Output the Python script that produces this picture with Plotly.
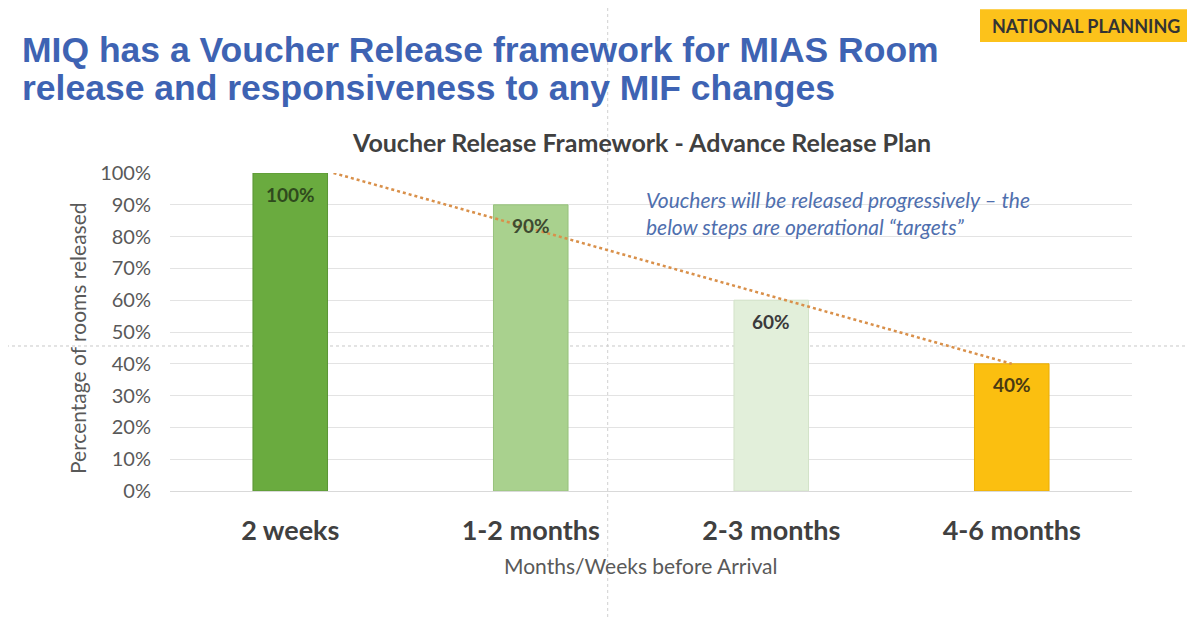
import plotly.graph_objects as go

categories = ["2 weeks", "1-2 months", "2-3 months", "4-6 months"]
released_pct = [100, 90, 60, 40]
bar_colors = ["#6aab3f", "#a9d18e", "#e2efda", "#fbbf10"]
bar_edge = ["#5a9534", "#98c27c", "#d3e3c9", "#e9ad05"]
label_colors = ["#2f4a1d", "#3d4a30", "#3a3a3a", "#4a3a12"]
trend_x = [0.18, 3.0]
trend_y = [100, 40]
y_ticks = [0, 10, 20, 30, 40, 50, 60, 70, 80, 90, 100]

x_pos = list(range(len(categories)))

fig = go.Figure()
fig.add_trace(go.Bar(
    x=x_pos, y=released_pct,
    marker=dict(color=bar_colors, line=dict(color=bar_edge, width=1)),
    width=0.31,
    hoverinfo="skip", showlegend=False,
))
fig.add_trace(go.Scatter(
    x=trend_x, y=trend_y, mode="lines",
    line=dict(color="#d9904a", width=2.5, dash="dot"),
    hoverinfo="skip", showlegend=False,
))

annotations = [
    dict(text="<b>MIQ has a Voucher Release framework for MIAS Room</b>",
         xref="paper", yref="paper", x=-0.156, y=1.387, xanchor="left", yanchor="middle",
         showarrow=False, font=dict(family="Liberation Sans, Arial, sans-serif", size=35.5, color="#3e63b3")),
    dict(text="<b>release and responsiveness to any MIF changes</b>",
         xref="paper", yref="paper", x=-0.156, y=1.267, xanchor="left", yanchor="middle",
         showarrow=False, font=dict(family="Liberation Sans, Arial, sans-serif", size=35.5, color="#3e63b3")),
    dict(text="<b>Voucher Release Framework - Advance Release Plan</b>",
         xref="paper", yref="paper", x=0.49, y=1.097, xanchor="center", yanchor="middle",
         showarrow=False, font=dict(size=25, color="#404040")),
    dict(text="<b>NATIONAL PLANNING</b>",
         xref="paper", yref="paper", x=0.852, y=1.462, xanchor="left", yanchor="middle",
         showarrow=False, font=dict(family="Liberation Sans Narrow, Lato, sans-serif", size=18, color="#333333")),
    dict(text="<i>Vouchers will be released progressively – the</i>",
         xref="paper", yref="paper", x=0.493, y=0.918, xanchor="left", yanchor="middle",
         showarrow=False, font=dict(size=21, color="#4f6fae")),
    dict(text="<i>below steps are operational “targets”</i>",
         xref="paper", yref="paper", x=0.493, y=0.833, xanchor="left", yanchor="middle",
         showarrow=False, font=dict(size=21, color="#4f6fae")),
    dict(text="Months/Weeks before Arrival",
         xref="paper", yref="paper", x=0.49, y=-0.235, xanchor="center", yanchor="middle",
         showarrow=False, font=dict(size=21, color="#595959")),
    dict(text="Percentage of rooms released", textangle=-90,
         xref="paper", yref="paper", x=-0.096, y=0.48, xanchor="center", yanchor="middle",
         showarrow=False, font=dict(size=21, color="#595959")),
]
for xi, v, c in zip(x_pos, released_pct, label_colors):
    annotations.append(dict(
        text=f"<b>{v}%</b>", x=xi, y=v, xref="x", yref="y",
        yshift=-21, showarrow=False, xanchor="center", yanchor="middle",
        font=dict(size=19, color=c),
    ))

fig.update_layout(
    width=1187, height=610,
    margin=dict(l=162, r=63, t=165, b=127),
    paper_bgcolor="white", plot_bgcolor="white",
    font=dict(family="Lato, Open Sans, sans-serif", color="#595959"),
    xaxis=dict(
        tickvals=x_pos, ticktext=[f"<b>{c}</b>" for c in categories],
        range=[-0.5, 3.5], automargin=False,
        tickfont=dict(size=27, color="#404040"),
        showgrid=False, zeroline=False, showline=False,
        ticks="outside", ticklen=16, tickcolor="rgba(0,0,0,0)",
    ),
    yaxis=dict(
        range=[0, 100], tickvals=y_ticks, ticktext=[f"{v}%" for v in y_ticks],
        automargin=False,
        tickfont=dict(size=20, color="#595959"),
        showgrid=True, gridcolor="#e3e3e3", gridwidth=1,
        zeroline=True, zerolinecolor="#d9d9d9", zerolinewidth=1,
        ticks="outside", ticklen=14, tickcolor="rgba(0,0,0,0)",
    ),
    shapes=[
        dict(type="line", xref="paper", yref="paper", x0=-1, x1=2, y0=0.456, y1=0.456,
             line=dict(color="#c8c8c8", width=1, dash="dot"), layer="below"),
        dict(type="line", xref="paper", yref="paper", x0=0.455, x1=0.455, y0=-1, y1=2,
             line=dict(color="#d0d0d0", width=1, dash="dot"), layer="below"),
        dict(type="rect", xref="paper", yref="paper", x0=0.842, x1=1.07, y0=1.412, y1=1.515,
             fillcolor="#fcc21b", line=dict(width=0), layer="below"),
    ],
    annotations=annotations,
)

fig.write_html("out.html")
